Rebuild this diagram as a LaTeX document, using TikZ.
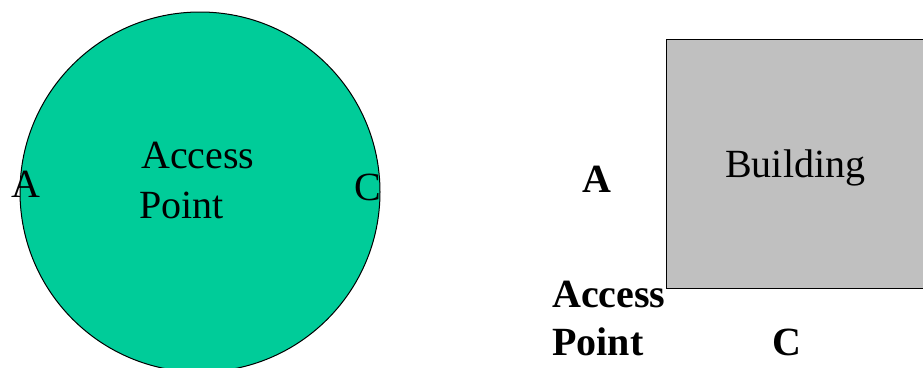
\documentclass[tikz,border=0pt]{standalone}
\usepackage{fontspec}
\setmainfont{Liberation Serif}
\definecolor{apgreen}{RGB}{0,204,153}
\definecolor{bldgray}{RGB}{192,192,192}
\begin{document}
\begin{tikzpicture}[x=1pt,y=-1pt,
  lbl/.style={anchor=base west,inner sep=0,font=\fontsize{40}{48}\selectfont},
  blbl/.style={lbl,font=\fontsize{40}{48}\selectfont\bfseries}]
\useasboundingbox (0,0) rectangle (923,367);
\clip (0,0) rectangle (923,367);
\fill[white] (0,0) rectangle (923,367);
% coverage circle
\node[circle,draw=black,line width=1pt,fill=apgreen,minimum size=360pt,inner sep=0] (cell) at (200,192) {};
\node[lbl] (ap1a) at (141,168) {Access};
\node[lbl] (ap1b) at (139,218) {Point};
\node[lbl] (a1) at (11,197) {A};
\node[lbl] (c1) at (354,200) {C};
% building
\node[draw=black,line width=1pt,fill=bldgray,minimum width=290pt,minimum height=249pt,inner sep=0,anchor=north west] (bld) at (666,39) {};
\node[lbl] (bldtxt) at (725,177) {Building};
\node[blbl] (a2) at (582,192) {A};
\node[blbl] (ap2a) at (552,307) {Access};
\node[blbl] (ap2b) at (552,355) {Point};
\node[blbl] (c2) at (772,355) {C};
\end{tikzpicture}
\end{document}
